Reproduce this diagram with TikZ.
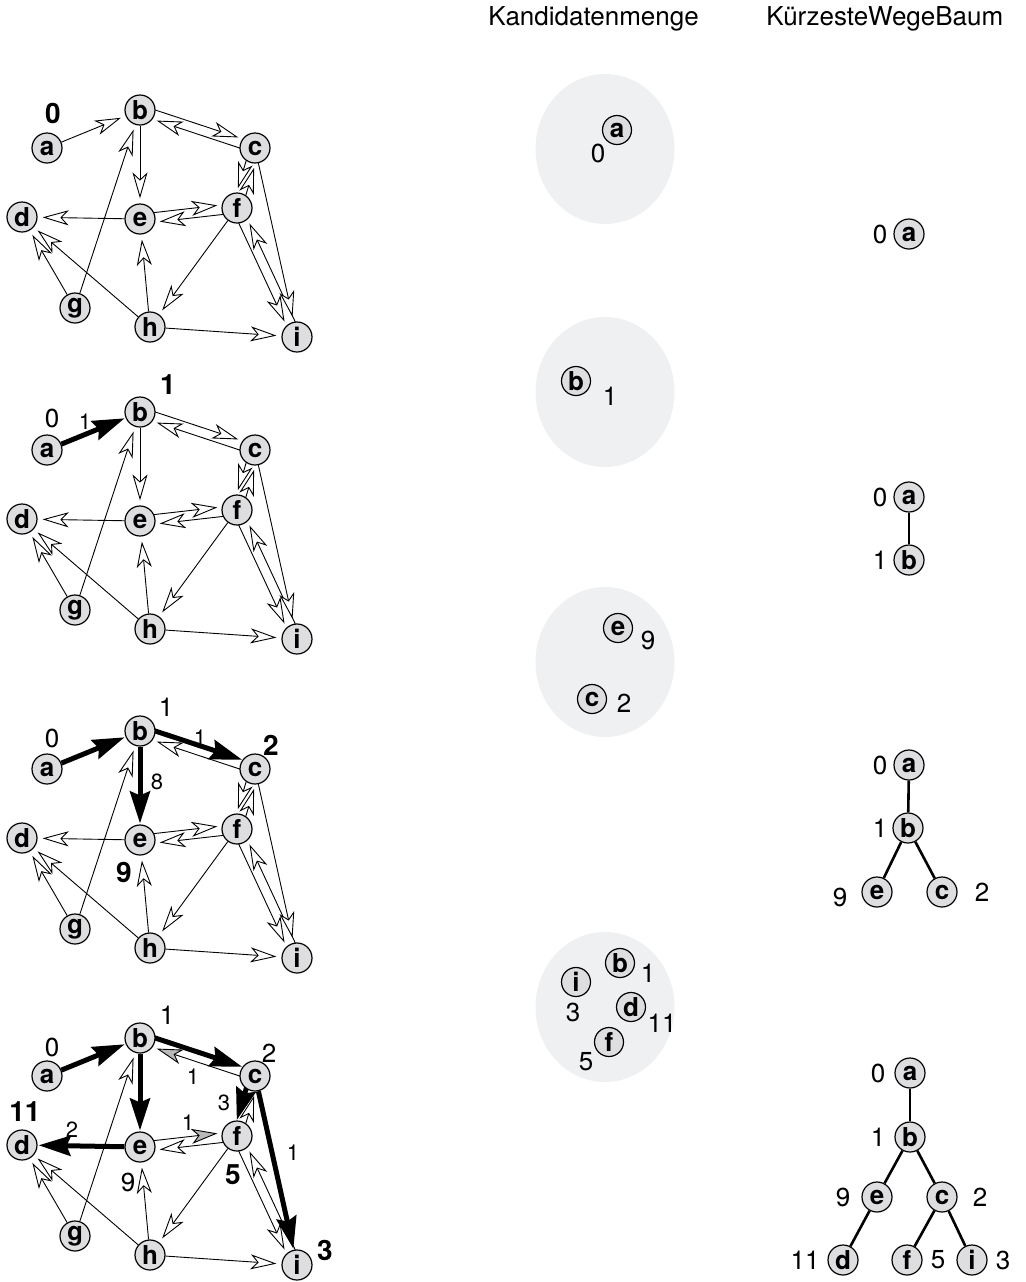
\documentclass[tikz,border=0pt]{standalone}
\usepackage{fontspec}
\setmainfont{TeX Gyre Heros}
\usetikzlibrary{arrows.meta,calc,backgrounds}
\definecolor{nodefill}{RGB}{222,222,224}
\definecolor{setfill}{RGB}{239,240,242}
\definecolor{headgrey}{RGB}{185,185,185}
\tikzset{
 gn/.style={circle, draw=black, line width=0.6pt, fill=nodefill, minimum size=15pt, inner sep=0pt, font=\fontsize{13}{13}\selectfont\bfseries},
 sn/.style={gn, minimum size=14.5pt},
 thinedge/.style={line width=0.45pt, -{Stealth[length=13pt,width=7.5pt,inset=3.5pt,fill=white]}},
 greyedge/.style={line width=0.45pt, -{Stealth[length=13pt,width=7.5pt,inset=3.5pt,fill=headgrey]}},
 boldedge/.style={line width=2.5pt, -{Stealth[length=16pt,width=10pt,inset=2pt]}, shorten >=0.5pt},
 boldpair/.style={boldedge, shorten >=7.6pt},
 treeedge/.style={line width=1.3pt},
 bl/.style={font=\fontsize{14}{14}\selectfont\bfseries, inner sep=0pt},
 nl/.style={font=\fontsize{13}{13}\selectfont, inner sep=0pt},
 wl/.style={font=\fontsize{11}{11}\selectfont, inner sep=0pt},
 hdr/.style={font=\fontsize{13}{13}\selectfont, inner sep=0pt, anchor=base west},
}
\newcommand\gnodes[1]{%
 \node[gn] (#1a) at (47,148) {a};
 \node[gn] (#1b) at (140,110) {b};
 \node[gn] (#1c) at (255,148) {c};
 \node[gn] (#1d) at (22,217) {d};
 \node[gn] (#1e) at (140,219) {e};
 \node[gn] (#1f) at (237,208) {f};
 \node[gn] (#1g) at (75,308) {g};
 \node[gn] (#1h) at (150,327) {h};
 \node[gn] (#1i) at (297,337) {i};
}
\newcommand\sedge[4]{\draw[shorten >=2.5pt, #4] (#1#2) -- (#1#3);}
\newcommand\pedge[6]{\draw[shorten <=6.8pt, shorten >=9.6pt, #6] ($(#1#2.center)!2.4pt!#4:(#1#3.center)$) -- ($(#1#3.center)!2.4pt!#5:(#1#2.center)$);}
\newcommand\commonedges[1]{%
 \pedge{#1}{f}{e}{90}{-90}{thinedge}
 \pedge{#1}{f}{c}{-90}{90}{thinedge}
 \sedge{#1}{f}{h}{thinedge}
 \pedge{#1}{f}{i}{-90}{90}{thinedge}
 \pedge{#1}{i}{f}{-90}{90}{thinedge}
 \sedge{#1}{h}{i}{thinedge}
 \sedge{#1}{h}{e}{thinedge}
 \sedge{#1}{h}{d}{thinedge}
 \sedge{#1}{g}{d}{thinedge}
 \sedge{#1}{g}{b}{thinedge}
}
\begin{document}
\begin{tikzpicture}[x=0.5pt,y=-0.5pt]
\useasboundingbox (0,0) rectangle (1026,1282);
% headers
\node[hdr] (hdrA) at (488,25) {Kandidatenmenge};
\node[hdr] (hdrB) at (766,25) {KürzesteWegeBaum};

% ---------- graph 1
\begin{scope}
\gnodes{p}
\node[bl] (p0) at (53,113) {0};
\begin{pgfonlayer}{background}
\commonedges{p}
\sedge{p}{a}{b}{thinedge}
\pedge{p}{b}{c}{90}{-90}{thinedge}
\pedge{p}{c}{b}{90}{-90}{thinedge}
\sedge{p}{b}{e}{thinedge}
\sedge{p}{e}{d}{thinedge}
\pedge{p}{e}{f}{90}{-90}{thinedge}
\pedge{p}{c}{f}{-90}{90}{thinedge}
\sedge{p}{c}{i}{thinedge}
\end{pgfonlayer}
\end{scope}

% ---------- graph 2
\begin{scope}[shift={(0,302)}]
\gnodes{q}
\node[nl] (q0) at (52,116) {0};
\node[wl] (qw1) at (85,120) {1};
\node[bl] (q1) at (168,83) {1};
\begin{pgfonlayer}{background}
\commonedges{q}
\sedge{q}{a}{b}{boldedge}
\pedge{q}{b}{c}{90}{-90}{thinedge}
\pedge{q}{c}{b}{90}{-90}{thinedge}
\sedge{q}{b}{e}{thinedge}
\sedge{q}{e}{d}{thinedge}
\pedge{q}{e}{f}{90}{-90}{thinedge}
\pedge{q}{c}{f}{-90}{90}{thinedge}
\sedge{q}{c}{i}{thinedge}
\end{pgfonlayer}
\end{scope}

% ---------- graph 3
\begin{scope}[shift={(0,621)}]
\gnodes{r}
\node[nl] (r0) at (52,117) {0};
\node[nl] (r1) at (166,86) {1};
\node[wl] (rw1) at (200,117) {1};
\node[bl] (r2) at (271,124) {2};
\node[wl] (rw8) at (157,161) {8};
\node[bl] (r9) at (124,251) {9};
\begin{pgfonlayer}{background}
\commonedges{r}
\sedge{r}{a}{b}{boldedge}
\pedge{r}{b}{c}{90}{-90}{boldpair}
\pedge{r}{c}{b}{90}{-90}{thinedge}
\sedge{r}{b}{e}{boldedge}
\sedge{r}{e}{d}{thinedge}
\pedge{r}{e}{f}{90}{-90}{thinedge}
\pedge{r}{c}{f}{-90}{90}{thinedge}
\sedge{r}{c}{i}{thinedge}
\end{pgfonlayer}
\end{scope}

% ---------- graph 4
\begin{scope}[shift={(0,928)}]
\gnodes{s}
\node[nl] (s0) at (52,119) {0};
\node[nl] (s1) at (167,87) {1};
\node[nl] (s2) at (269,125) {2};
\node[wl] (sw1a) at (193,149) {1};
\node[bl] (s11) at (25,184) {11};
\node[wl] (sw2) at (72,202) {2};
\node[wl] (sw1b) at (188,195) {1};
\node[wl] (sw3) at (224,175) {3};
\node[wl] (sw1c) at (293,225) {1};
\node[nl] (s9) at (128,254) {9};
\node[bl] (s5) at (233,247) {5};
\node[bl] (s3) at (325,322) {3};
\begin{pgfonlayer}{background}
\commonedges{s}
\sedge{s}{a}{b}{boldedge}
\pedge{s}{b}{c}{90}{-90}{boldpair}
\pedge{s}{c}{b}{90}{-90}{greyedge}
\sedge{s}{b}{e}{boldedge}
\sedge{s}{e}{d}{boldedge}
\pedge{s}{e}{f}{90}{-90}{greyedge}
\pedge{s}{c}{f}{-90}{90}{boldpair}
\sedge{s}{c}{i}{boldedge}
\end{pgfonlayer}
\end{scope}

% ---------- candidate sets
\begin{pgfonlayer}{background}
\fill[setfill] (605,149) ellipse [x radius=34.75pt, y radius=37.5pt];
\fill[setfill] (605,392) ellipse [x radius=34.75pt, y radius=37.5pt];
\fill[setfill] (605,662) ellipse [x radius=34.75pt, y radius=37.5pt];
\fill[setfill] (605,1007) ellipse [x radius=34.75pt, y radius=37.5pt];
\end{pgfonlayer}
\node[sn] (k1a) at (617,130) {a};
\node[nl] (k1l0) at (598,153) {0};
\node[sn] (k2b) at (576,381) {b};
\node[nl] (k2l1) at (610,396) {1};
\node[sn] (k3e) at (618,628) {e};
\node[nl] (k3l9) at (648,640) {9};
\node[sn] (k3c) at (592,699) {c};
\node[nl] (k3l2) at (624,703) {2};
\node[sn] (k4b) at (620,963) {b};
\node[nl] (k4l1) at (648,973) {1};
\node[sn] (k4i) at (576,982) {i};
\node[nl] (k4l3) at (573,1012) {3};
\node[sn] (k4d) at (631,1007) {d};
\node[nl] (k4l11) at (662,1023) {11};
\node[sn] (k4f) at (609,1042) {f};
\node[nl] (k4l5) at (586,1062) {5};

% ---------- shortest path trees
\node[gn] (t1a) at (909,234) {a};
\node[nl] (t1l0) at (880,234) {0};

\node[gn] (t2a) at (909,497) {a};
\node[gn] (t2b) at (909,560) {b};
\node[nl] (t2l0) at (880,497) {0};
\node[nl] (t2l1) at (880,560) {1};
\draw[treeedge] (t2a) -- (t2b);

\node[gn] (t3a) at (909,765) {a};
\node[gn] (t3b) at (908,828) {b};
\node[gn] (t3e) at (877,892) {e};
\node[gn] (t3c) at (942,892) {c};
\node[nl] (t3l0) at (880,765) {0};
\node[nl] (t3l1) at (880,828) {1};
\node[nl] (t3l9) at (840,897) {9};
\node[nl] (t3l2) at (982,892) {2};
\draw[treeedge] (t3a) -- (t3b);
\draw[treeedge] (t3b) -- (t3e);
\draw[treeedge] (t3b) -- (t3c);

\node[gn] (t4a) at (910,1073) {a};
\node[gn] (t4b) at (910,1137) {b};
\node[gn] (t4e) at (877,1197) {e};
\node[gn] (t4c) at (942,1197) {c};
\node[gn] (t4d) at (843,1260) {d};
\node[gn] (t4f) at (907,1260) {f};
\node[gn] (t4i) at (972,1260) {i};
\node[nl] (t4l0) at (878,1073) {0};
\node[nl] (t4l1) at (878,1137) {1};
\node[nl] (t4l9) at (843,1197) {9};
\node[nl] (t4l2) at (980,1197) {2};
\node[nl] (t4l11) at (805,1260) {11};
\node[nl] (t4l5) at (938,1260) {5};
\node[nl] (t4l3) at (1003,1260) {3};
\draw[treeedge] (t4a) -- (t4b);
\draw[treeedge] (t4b) -- (t4e);
\draw[treeedge] (t4b) -- (t4c);
\draw[treeedge] (t4e) -- (t4d);
\draw[treeedge] (t4c) -- (t4f);
\draw[treeedge] (t4c) -- (t4i);
\end{tikzpicture}
\end{document}
